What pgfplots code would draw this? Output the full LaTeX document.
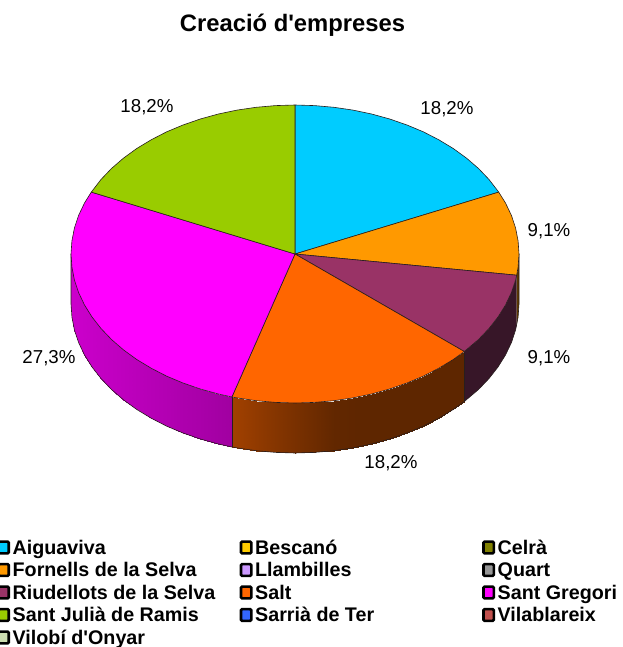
\documentclass[border=0pt]{standalone}
\usepackage{fontspec}
\setmainfont{Liberation Sans}[Ligatures=TeXOff]
\usepackage{pgfplots}
\pgfplotsset{compat=1.18}
\definecolor{cBlue}{HTML}{00CCFF}
\definecolor{cBesc}{HTML}{FFCC00}
\definecolor{cCelr}{HTML}{808000}
\definecolor{cForn}{HTML}{FF9900}
\definecolor{cLlam}{HTML}{CC99FF}
\definecolor{cQuar}{HTML}{969696}
\definecolor{cRiud}{HTML}{993366}
\definecolor{cSalt}{HTML}{FF6600}
\definecolor{cGreg}{HTML}{FF00FF}
\definecolor{cJuli}{HTML}{99CC00}
\definecolor{cSarr}{HTML}{3366FF}
\definecolor{cVila}{HTML}{C0504D}
\definecolor{cVilo}{HTML}{CCDDB0}
\definecolor{wRiud}{RGB}{55,22,40}
\definecolor{wForn}{RGB}{94,57,0}
\definecolor{edge}{RGB}{40,30,30}
\newcommand{\ent}[1]{\makebox[227pt][l]{\rule[-5.5pt]{0pt}{22.5pt}#1}}
\pgfplotsset{
  slice/.style={fill=#1, draw=edge, line width=0.6pt, line join=round, forget plot},
  wall/.style={surf, shader=interp, mesh/ordering=y varies, mesh/rows=2, forget plot},
}
\tikzset{pct/.style={font=\fontsize{18.7}{20}\selectfont, inner sep=0pt}}
\begin{document}
\begin{tikzpicture}
\useasboundingbox (0,0) rectangle (622pt,647pt);
\begin{axis}[
    at={(0,0)}, anchor=south west,
    scale only axis, width=622pt, height=647pt,
    xmin=0, xmax=622, ymin=0, ymax=647,
    y dir=reverse,
    hide axis,
    point meta min=0, point meta max=1,
    legend columns=3,
    legend cell align=left,
    legend image code/.code={
      \draw[#1, draw=black, line width=2.6pt, rounded corners=1.2pt]
        (0pt,0.6pt) rectangle (10.3pt,12.4pt);},
    legend style={
      at={(axis cs:-2.8,537)}, anchor=north west,
      draw=none, fill=none, inner sep=0pt, outer sep=0pt,
      row sep=4pt, column sep=0pt,
      font=\fontsize{19.7}{20}\selectfont\bfseries,
      nodes={inner sep=0pt, outer sep=0pt, anchor=base west},
      /tikz/every odd column/.append style={column sep=2.6pt},
    },
]
% side walls, back to front order does not matter here
\addplot[fill=wForn, draw=none, forget plot] coordinates {
  (519,254) (518.1,267) (516.7,275.2) (516.7,325.2) (518.1,317) (519,304)} -- cycle;
\addplot[fill=wRiud, draw=none, forget plot] coordinates {
  (516.7,275.2) (515.6,279.9) (511.4,292.6) (505.5,305) (498,317) (489,328.5) (478.5,339.5) (464.3,351.5)
  (464.3,401.5) (478.5,389.5) (489,378.5) (498,367) (505.5,355) (511.4,342.6) (515.6,329.9) (516.7,325.2)} -- cycle;
\addplot[wall, colormap={wsalt}{rgb255(0)=(0,0,0) rgb255(1)=(255,102,0)}, point meta=explicit]
  table[x=x, y=y, meta=m] {
x y m
464.3 351.5 .37
464.3 401.5 .37
453.4 359.4 .37
453.4 409.4 .37
439.0 368.1 .37
439.0 418.1 .37
423.5 376.1 .37
423.5 426.1 .37
407.0 383.0 .37
407.0 433.0 .37
389.7 389.0 .37
389.7 439.0 .37
371.6 394.0 .37
371.6 444.0 .37
353.0 397.9 .375
353.0 447.9 .375
333.9 400.7 .385
333.9 450.7 .385
314.5 402.4 .43
314.5 452.4 .43
295.0 403.0 .475
295.0 453.0 .475
275.5 402.4 .52
275.5 452.4 .52
256.1 400.7 .57
256.1 450.7 .57
237.0 397.9 .62
237.0 447.9 .62
231.9 397.0 .63
231.9 447.0 .63
};
\addplot[wall, colormap={wgreg}{rgb255(0)=(0,0,0) rgb255(1)=(255,0,255)}, point meta=explicit]
  table[x=x, y=y, meta=m] {
x y m
231.9 397.0 .63
231.9 447.0 .63
218.4 394.0 .645
218.4 444.0 .645
200.3 389.0 .665
200.3 439.0 .665
183.0 383.0 .68
183.0 433.0 .68
166.5 376.1 .70
166.5 426.1 .70
151.0 368.1 .715
151.0 418.1 .715
136.6 359.4 .73
136.6 409.4 .73
123.4 349.8 .745
123.4 399.8 .745
111.5 339.5 .755
111.5 389.5 .755
101.0 328.5 .765
101.0 378.5 .765
92.0 317.0 .775
92.0 367.0 .775
84.5 305.0 .785
84.5 355.0 .785
78.6 292.6 .79
78.6 342.6 .79
74.4 279.9 .795
74.4 329.9 .795
71.9 267.0 .80
71.9 317.0 .80
71.0 254.0 .80
71.0 304.0 .80
};
% wall outline: bottom arc and the vertical seams
\addplot[draw=edge, line width=0.6pt, forget plot] coordinates {
  (71,254) (71,304) (71.9,317) (74.4,329.9) (78.6,342.6) (84.5,355) (92,367) (101,378.5) (111.5,389.5)
  (123.4,399.8) (136.6,409.4) (151,418.1) (166.5,426.1) (183,433) (200.3,439) (218.4,444) (231.9,447)
  (237,447.9) (256.1,450.7) (275.5,452.4) (295,453) (314.5,452.4) (333.9,450.7) (353,447.9) (371.6,444)
  (389.7,439) (407,433) (423.5,426.1) (439,418.1) (453.4,409.4) (464.3,401.5) (478.5,389.5) (489,378.5)
  (498,367) (505.5,355) (511.4,342.6) (515.6,329.9) (518.1,317) (519,304) (519,254)};
\addplot[draw=edge, line width=0.6pt, forget plot] coordinates {(231.9,397) (231.9,447)};
\addplot[draw=edge, line width=0.6pt, forget plot] coordinates {(464.3,351.5) (464.3,401.5)};
% top face, one wedge per municipality: 18,2 9,1 9,1 18,2 27,3 18,2
\addplot[slice=cBlue] coordinates {
  (295,254) (295,105) (314.5,105.6) (333.9,107.3) (353,110.1) (371.6,114) (389.7,119) (407,125) (423.5,131.9)
  (439,139.9) (453.4,148.6) (466.6,158.2) (478.5,168.5) (489,179.5) (498.7,192.1)} -- cycle;
\addplot[slice=cForn] coordinates {
  (295,254) (498.7,192.1) (505.5,203) (511.4,215.4) (515.6,228.1) (518.1,241) (519,254) (518.1,267) (516.7,275.2)} -- cycle;
\addplot[slice=cRiud] coordinates {
  (295,254) (516.7,275.2) (515.6,279.9) (511.4,292.6) (505.5,305) (498,317) (489,328.5) (478.5,339.5) (464.3,351.5)} -- cycle;
\addplot[slice=cSalt] coordinates {
  (295,254) (464.3,351.5) (453.4,359.4) (439,368.1) (423.5,376.1) (407,383) (389.7,389) (371.6,394) (353,397.9)
  (333.9,400.7) (314.5,402.4) (295,403) (275.5,402.4) (256.1,400.7) (237,397.9) (231.9,397)} -- cycle;
\addplot[slice=cGreg] coordinates {
  (295,254) (231.9,397) (218.4,394) (200.3,389) (183,383) (166.5,376.1) (151,368.1) (136.6,359.4) (123.4,349.8)
  (111.5,339.5) (101,328.5) (92,317) (84.5,305) (78.6,292.6) (74.4,279.9) (71.9,267) (71,254) (71.9,241)
  (74.4,228.1) (78.6,215.4) (84.5,203) (91.3,192.1)} -- cycle;
\addplot[slice=cJuli] coordinates {
  (295,254) (91.3,192.1) (101,179.5) (111.5,168.5) (123.4,158.2) (136.6,148.6) (151,139.9) (166.5,131.9) (183,125)
  (200.3,119) (218.4,114) (237,110.1) (256.1,107.3) (275.5,105.6) (295,105)} -- cycle;
% legend, filled in row by row as in the original
\addlegendimage{fill=cBlue}\addlegendentry{\ent{Aiguaviva}}
\addlegendimage{fill=cBesc}\addlegendentry{\ent{Bescanó}}
\addlegendimage{fill=cCelr}\addlegendentry{\ent{Celrà}}
\addlegendimage{fill=cForn}\addlegendentry{\ent{Fornells de la Selva}}
\addlegendimage{fill=cLlam}\addlegendentry{\ent{Llambilles}}
\addlegendimage{fill=cQuar}\addlegendentry{\ent{Quart}}
\addlegendimage{fill=cRiud}\addlegendentry{\ent{Riudellots de la Selva}}
\addlegendimage{fill=cSalt}\addlegendentry{\ent{Salt}}
\addlegendimage{fill=cGreg}\addlegendentry{\ent{Sant Gregori}}
\addlegendimage{fill=cJuli}\addlegendentry{\ent{Sant Julià de Ramis}}
\addlegendimage{fill=cSarr}\addlegendentry{\ent{Sarrià de Ter}}
\addlegendimage{fill=cVila}\addlegendentry{\ent{Vilablareix}}
\addlegendimage{fill=cVilo}\addlegendentry{\ent{Vilobí d'Onyar}}
% title and percentages
\node[font=\fontsize{23.8}{26}\selectfont\bfseries, inner sep=0pt] at (axis cs:292.5,25) {Creació d'empreses};
\node[pct] at (axis cs:447,109) {18,2\%};
\node[pct] at (axis cs:549,231) {9,1\%};
\node[pct] at (axis cs:549,358) {9,1\%};
\node[pct] at (axis cs:391,463) {18,2\%};
\node[pct] at (axis cs:49,358) {27,3\%};
\node[pct] at (axis cs:147,107) {18,2\%};
\end{axis}
\end{tikzpicture}
\end{document}
